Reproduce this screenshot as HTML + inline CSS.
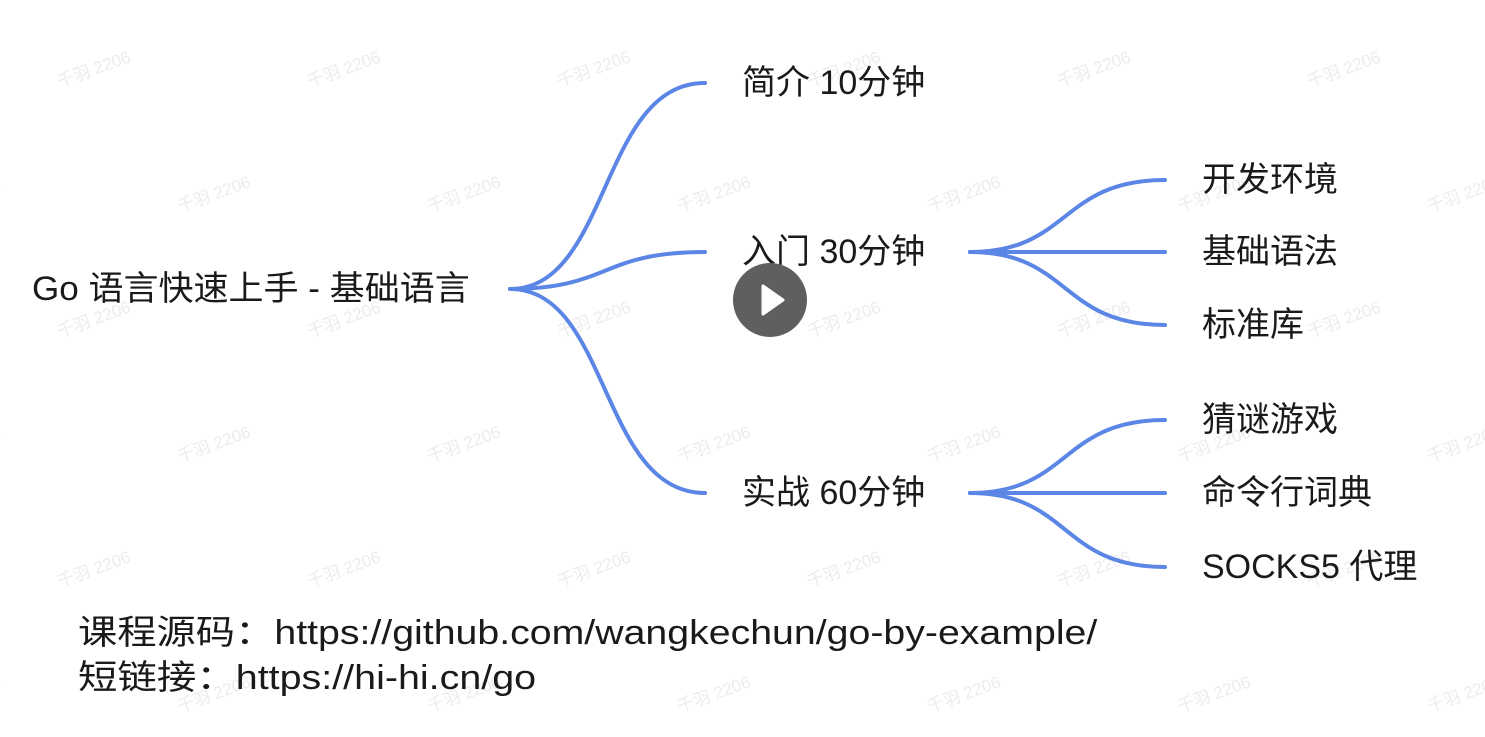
<!DOCTYPE html>
<html><head><meta charset="utf-8"><style>
body{margin:0;width:1485px;height:737px;background:#fff;overflow:hidden;position:relative;font-family:"Liberation Sans","Noto Sans CJK SC",sans-serif;color:#1a1a1a}
.t{position:absolute;font-size:34px;line-height:40px;white-space:nowrap;transform-origin:0 50%}
.w{position:absolute;font-size:17px;color:#ececec;transform:rotate(-20deg);white-space:nowrap}
</style></head><body>
<div id="wm"></div>
<script>
var h='';for(var r=0;r<6;r++){var y=55+r*125;var off=(r%2)?-75:55;for(var c=0;c<7;c++){var x=off+c*250;h+='<div class="w" style="left:'+x+'px;top:'+y+'px">千羽 2206</div>';}}document.getElementById('wm').innerHTML=h;
</script>
<svg width="1485" height="737" style="position:absolute;left:0;top:0" fill="none" stroke="#5b86e5" stroke-width="4" stroke-linecap="round">
<path d="M510 289 C610 289 600 83 705 83"/>
<path d="M510 289 C610 289 600 252 705 252"/>
<path d="M510 289 C610 289 600 493 705 493"/>
<path d="M970 252 C1070 252 1060 180 1165 180"/>
<path d="M970 252 L1165 252"/>
<path d="M970 252 C1070 252 1060 325 1165 325"/>
<path d="M970 493 C1070 493 1060 420 1165 420"/>
<path d="M970 493 L1165 493"/>
<path d="M970 493 C1070 493 1060 567 1165 567"/>
</svg>
<div class="t" style="left:32px;top:269px;transform:scaleX(1.03)">Go 语言快速上手 - 基础语言</div>
<div class="t" style="left:742px;top:63px">简介 10分钟</div>
<div class="t" style="left:742px;top:232px">入门 30分钟</div>
<div class="t" style="left:742px;top:473px">实战 60分钟</div>
<div class="t" style="left:1202px;top:160px">开发环境</div>
<div class="t" style="left:1202px;top:232px">基础语法</div>
<div class="t" style="left:1202px;top:305px">标准库</div>
<div class="t" style="left:1202px;top:400px">猜谜游戏</div>
<div class="t" style="left:1202px;top:473px">命令行词典</div>
<div class="t" style="left:1202px;top:547px">SOCKS5 代理</div>
<div class="t" style="left:78px;top:613px;transform:scaleX(1.155)">课程源码：https://github.com/wangkechun/go-by-example/</div>
<div class="t" style="left:78px;top:658px;transform:scaleX(1.16)">短链接：https://hi-hi.cn/go</div>
<svg width="80" height="80" style="position:absolute;left:730px;top:260px"><circle cx="40" cy="40" r="37" fill="#5f5f5f"/><path d="M33 26 L53 40 L33 54 Z" fill="#fff" stroke="#fff" stroke-width="3" stroke-linejoin="round"/></svg>
</body></html>
